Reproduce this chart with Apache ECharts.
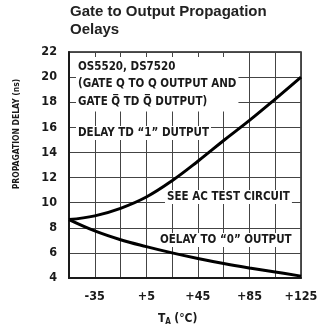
<!DOCTYPE html>
<html>
<head>
<meta charset="utf-8">
<script src="https://cdn.jsdelivr.net/npm/echarts@6/dist/echarts.min.js"></script>
<style>
  html, body { margin: 0; padding: 0; background: #fff; }
  #chart { width: 322px; height: 332px; }
</style>
</head>
<body>
<div id="chart"></div>
<script>
// Ambient temperature (°C) sample points
var temps = [-55, -35, -15, 5, 25, 45, 65, 85, 105, 125];
// Propagation delay (ns) to "1" output
var delayToOne = [8.65, 8.95, 9.55, 10.45, 11.75, 13.3, 14.95, 16.55, 18.25, 20.0];
// Propagation delay (ns) to "0" output
var delayToZero = [8.65, 7.75, 7.05, 6.5, 6.0, 5.55, 5.15, 4.8, 4.48, 4.15];
// Labelled x ticks and y ticks
var xTickLabels = [-35, 5, 45, 85, 125];
var yTicks = [4, 6, 8, 10, 12, 14, 16, 18, 20, 22];

// The temperature axis runs from -55 °C; shift it so ticks start at zero
var T0 = -55;
function pts(ys) {
  return temps.map(function (t, i) { return [t - T0, ys[i]]; });
}

var condensed = "'Liberation Sans Narrow', 'DejaVu Sans Condensed', 'Liberation Sans', sans-serif";
var ink = '#1a1a1a';

function note(x, y, text) {
  return {
    type: 'text', left: x, top: y, z: 50,
    style: {
      text: text, fill: ink, font: 'bold 11.5px ' + condensed,
      backgroundColor: '#fff', padding: [1, 2, 1, 2]
    }
  };
}

var chart = echarts.init(document.getElementById('chart'), null, { renderer: 'canvas' });
chart.setOption({
  animation: false,
  backgroundColor: '#fff',
  grid: { left: 69, right: 21, top: 52, bottom: 54, show: true, borderColor: ink, borderWidth: 1.5 },
  xAxis: {
    type: 'value', min: 0, max: 180, interval: 20,
    axisLine: { show: true, lineStyle: { color: ink, width: 2 } },
    axisTick: { show: false },
    splitLine: { show: true, lineStyle: { color: '#444', width: 1 } },
    axisLabel: {
      margin: 12, color: ink, fontFamily: condensed, fontWeight: 'bold', fontSize: 12.5,
      formatter: function (v) {
        var t = v + T0;
        if (xTickLabels.indexOf(t) < 0) return '';
        return t > 0 ? '+' + t : '-' + Math.abs(t);
      }
    }
  },
  yAxis: {
    type: 'value', min: yTicks[0], max: yTicks[yTicks.length - 1], interval: 2,
    axisLine: { show: true, lineStyle: { color: ink, width: 2 } },
    axisTick: { show: false },
    splitLine: { show: true, lineStyle: { color: '#444', width: 1 } },
    axisLabel: { margin: 12, color: ink, fontFamily: condensed, fontWeight: 'bold', fontSize: 12.5 }
  },
  series: [
    {
      type: 'line', data: pts(delayToOne), smooth: 0.4, showSymbol: false, z: 10,
      lineStyle: { color: '#000', width: 3 }
    },
    {
      type: 'line', data: pts(delayToZero), smooth: 0.4, showSymbol: false, z: 10,
      lineStyle: { color: '#000', width: 3 }
    }
  ],
  graphic: [
    {
      type: 'text', left: 70, top: 3,
      style: {
        text: 'Gate to Output Propagation\nOelays', fill: '#222',
        font: 'bold 15px "Liberation Sans", Arial, sans-serif', lineHeight: 18
      }
    },
    {
      type: 'text', x: 17, y: 134, rotation: Math.PI / 2,
      style: {
        text: 'PROPAGATION DELAY (ns)', fill: ink, align: 'center', verticalAlign: 'middle',
        font: 'bold 8.5px ' + condensed
      }
    },
    {
      type: 'text', left: 158, top: 313,
      style: {
        text: '{t|T}{s|A} {t|(°C)}', fill: ink,
        rich: {
          t: { font: 'bold 12px ' + condensed, fill: ink },
          s: { font: 'bold 8px ' + condensed, fill: ink, padding: [6, 0, 0, 0] }
        }
      }
    },
    {
      type: 'text', left: 76, top: 57, z: 50,
      style: {
        text: 'OS5520, DS7520\n(GATE Q TO Q OUTPUT AND\nGATE Q\u0305 TD Q\u0305 DUTPUT)',
        fill: ink, font: 'bold 11.5px ' + condensed, lineHeight: 17.5,
        backgroundColor: '#fff', padding: [1, 2, 1, 2]
      }
    },
    note(76, 126, 'DELAY TD \u201C1\u201D DUTPUT'),
    note(165, 190, 'SEE AC TEST CIRCUIT'),
    note(158, 233, 'OELAY TO \u201C0\u201D OUTPUT')
  ]
});
</script>
</body>
</html>
